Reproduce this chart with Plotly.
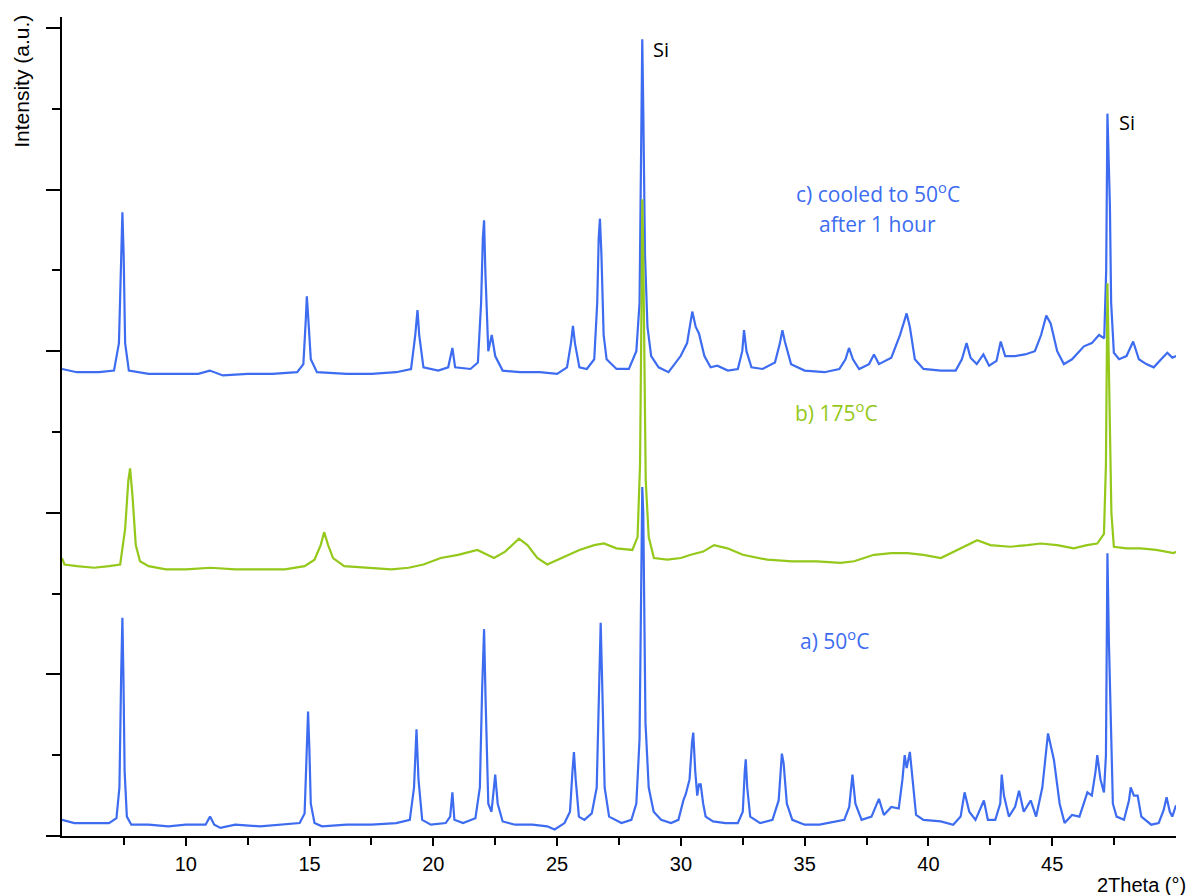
import plotly.graph_objects as go

# ---- data (2Theta in degrees, intensity in stacked a.u.) ----
a_x = [5.0, 5.5, 6.2, 6.9, 7.2, 7.32, 7.39, 7.44, 7.48, 7.53, 7.62, 7.8, 8.5, 9.3, 10.0, 10.8, 10.98, 11.15, 11.4,
       12.0, 13.0, 14.0, 14.6, 14.8, 14.88, 14.94, 14.99, 15.05, 15.2, 15.5, 16.5, 17.5, 18.5, 19.05, 19.22, 19.32,
       19.4, 19.55, 19.9, 20.5, 20.68, 20.77, 20.85, 21.2, 21.7, 21.88, 21.97, 22.05, 22.11, 22.22, 22.35, 22.5,
       22.6, 22.8, 23.3, 24.0, 24.6, 24.9, 25.3, 25.52, 25.62, 25.68, 25.75, 25.88, 26.1, 26.4, 26.6, 26.7, 26.76,
       26.82, 26.92, 27.1, 27.6, 28.0, 28.2, 28.33, 28.4, 28.44, 28.48, 28.52, 28.57, 28.7, 28.9, 29.2, 29.6, 29.9,
       30.1, 30.2, 30.35, 30.45, 30.5, 30.58, 30.66, 30.73, 30.8, 30.9, 31.0, 31.3, 31.8, 32.3, 32.5, 32.58, 32.62,
       32.68, 32.8, 33.2, 33.7, 33.95, 34.08, 34.15, 34.28, 34.5, 35.0, 35.6, 36.2, 36.6, 36.8, 36.93, 37.05, 37.3,
       37.7, 38.0, 38.2, 38.5, 38.8, 38.95, 39.04, 39.12, 39.25, 39.35, 39.5, 39.8, 40.5, 41.0, 41.3, 41.46, 41.65,
       41.9, 42.24, 42.4, 42.7, 42.9, 42.96, 43.05, 43.25, 43.5, 43.66, 43.85, 44.13, 44.35, 44.6, 44.83, 44.95,
       45.07, 45.3, 45.5, 45.8, 46.1, 46.42, 46.6, 46.75, 46.82, 46.95, 47.09, 47.17, 47.23, 47.29, 47.33, 47.38,
       47.45, 47.6, 47.9, 48.1, 48.17, 48.3, 48.45, 48.6, 49.0, 49.3, 49.5, 49.62, 49.75, 49.85, 50.0]
a_y = [0.10, 0.08, 0.08, 0.08, 0.11, 0.30, 1.00, 1.35, 1.00, 0.40, 0.12, 0.07, 0.07, 0.06, 0.07, 0.07, 0.12, 0.07, 0.05,
       0.07, 0.06, 0.07, 0.08, 0.14, 0.45, 0.77, 0.55, 0.20, 0.08, 0.06, 0.07, 0.07, 0.08, 0.10, 0.30, 0.66,
       0.35, 0.10, 0.07, 0.08, 0.12, 0.27, 0.10, 0.08, 0.11, 0.30, 0.90, 1.28, 0.85, 0.20, 0.15, 0.38,
       0.20, 0.09, 0.07, 0.07, 0.06, 0.04, 0.08, 0.15, 0.40, 0.52, 0.35, 0.12, 0.10, 0.14, 0.30, 0.90, 1.32,
       0.95, 0.30, 0.12, 0.08, 0.10, 0.20, 0.60, 1.70, 2.16, 2.00, 1.40, 0.70, 0.30, 0.15, 0.10, 0.08, 0.10,
       0.22, 0.26, 0.35, 0.58, 0.64, 0.40, 0.25, 0.32, 0.32, 0.20, 0.12, 0.09, 0.08, 0.08, 0.15, 0.40, 0.475,
       0.30, 0.12, 0.08, 0.10, 0.22, 0.51, 0.45, 0.20, 0.10, 0.07, 0.07, 0.09, 0.10, 0.18, 0.38, 0.20, 0.10,
       0.12, 0.23, 0.13, 0.18, 0.17, 0.35, 0.50, 0.42, 0.52, 0.35, 0.13, 0.10, 0.09, 0.07, 0.12, 0.27, 0.15,
       0.10, 0.22, 0.10, 0.10, 0.20, 0.38, 0.25, 0.12, 0.18, 0.28, 0.15, 0.22, 0.12, 0.30, 0.635, 0.55,
       0.47, 0.20, 0.08, 0.13, 0.12, 0.27, 0.25, 0.40, 0.50, 0.35, 0.27, 0.50, 1.75, 1.20, 0.92, 0.50,
       0.20, 0.12, 0.10, 0.22, 0.30, 0.25, 0.25, 0.12, 0.07, 0.08, 0.16, 0.24, 0.15, 0.12, 0.19]

b_x = [5.0, 5.1, 5.6, 6.3, 6.9, 7.35, 7.55, 7.68, 7.75, 7.85, 7.98, 8.15, 8.5, 9.2, 10.0, 11.0, 12.0, 13.0, 14.0,
       14.8, 15.2, 15.45, 15.59, 15.75, 15.95, 16.4, 17.3, 18.3, 19.0, 19.6, 20.3, 21.0, 21.78, 22.45, 22.9, 23.46,
       23.8, 24.2, 24.6, 25.2, 25.9, 26.5, 26.89, 27.4, 28.04, 28.25, 28.35, 28.41, 28.44, 28.48, 28.52, 28.58,
       28.7, 28.91, 29.45, 30.0, 30.4, 30.9, 31.34, 31.88, 32.5, 33.49, 34.5, 35.5, 36.45, 37.0, 37.8, 38.5,
       39.15, 39.8, 40.5, 41.2, 41.97, 42.5, 43.3, 44.0, 44.53, 45.2, 45.87, 46.4, 46.82, 47.09, 47.17, 47.23,
       47.28, 47.33, 47.39, 47.49, 48.0, 48.57, 49.2, 49.9, 50.0]
b_y = [1.72, 1.68, 1.67, 1.66, 1.67, 1.68, 1.90, 2.20, 2.275, 2.10, 1.80, 1.70, 1.67, 1.65, 1.65, 1.66, 1.65, 1.65, 1.65,
       1.67, 1.71, 1.80, 1.88, 1.80, 1.72, 1.67, 1.66, 1.65, 1.66, 1.68, 1.72, 1.74, 1.77, 1.72, 1.76, 1.84,
       1.80, 1.72, 1.68, 1.72, 1.77, 1.80, 1.81, 1.78, 1.77, 1.85, 2.30, 3.30, 3.94, 3.60, 3.00, 2.20,
       1.85, 1.72, 1.71, 1.72, 1.74, 1.76, 1.80, 1.78, 1.74, 1.71, 1.70, 1.70, 1.69, 1.70, 1.74, 1.75,
       1.75, 1.74, 1.72, 1.77, 1.83, 1.80, 1.79, 1.80, 1.81, 1.80, 1.78, 1.80, 1.81, 1.87, 2.30, 3.42,
       3.00, 2.62, 2.00, 1.79, 1.78, 1.78, 1.77, 1.75, 1.76]

c_x = [5.0, 5.6, 6.5, 7.1, 7.3, 7.38, 7.44, 7.49, 7.55, 7.7, 8.5, 9.5, 10.5, 10.97, 11.5, 12.5, 13.5, 14.5, 14.75,
       14.85, 14.89, 14.95, 15.05, 15.3, 16.5, 17.5, 18.5, 19.1, 19.27, 19.36, 19.43, 19.6, 20.2, 20.6, 20.77,
       20.88, 21.5, 21.8, 21.93, 22.0, 22.05, 22.1, 22.22, 22.36, 22.5, 22.8, 23.5, 24.3, 25.0, 25.4, 25.56,
       25.64, 25.72, 25.9, 26.2, 26.5, 26.62, 26.68, 26.73, 26.79, 26.88, 27.0, 27.4, 27.9, 28.2, 28.33, 28.4,
       28.44, 28.48, 28.51, 28.55, 28.65, 28.8, 29.1, 29.5, 29.99, 30.25, 30.46, 30.6, 30.73, 30.95, 31.2,
       31.47, 31.9, 32.3, 32.48, 32.55, 32.65, 32.85, 33.3, 33.8, 34.0, 34.1, 34.2, 34.45, 35.0, 35.8, 36.4,
       36.65, 36.79, 36.95, 37.2, 37.6, 37.8, 38.0, 38.5, 38.85, 39.12, 39.25, 39.45, 39.8, 40.5, 41.1, 41.35,
       41.54, 41.7, 41.95, 42.22, 42.45, 42.75, 42.92, 43.1, 43.5, 43.9, 44.3, 44.55, 44.76, 44.94, 45.2,
       45.47, 45.8, 46.1, 46.28, 46.6, 46.89, 47.1, 47.18, 47.23, 47.28, 47.33, 47.38, 47.49, 47.7, 48.0,
       48.27, 48.5, 48.8, 49.1, 49.4, 49.65, 49.85, 50.0]
c_y = [2.89, 2.87, 2.87, 2.88, 3.05, 3.60, 3.86, 3.60, 3.05, 2.88, 2.86, 2.86, 2.86, 2.88, 2.85, 2.86, 2.86, 2.87, 2.92,
       3.20, 3.34, 3.20, 2.95, 2.87, 2.86, 2.86, 2.87, 2.89, 3.10, 3.255, 3.10, 2.90, 2.88, 2.90, 3.02,
       2.90, 2.89, 2.93, 3.30, 3.70, 3.81, 3.50, 3.00, 3.10, 2.97, 2.88, 2.87, 2.87, 2.86, 2.90, 3.05,
       3.156, 3.05, 2.90, 2.89, 2.95, 3.30, 3.70, 3.82, 3.60, 3.10, 2.95, 2.89, 2.89, 3.00, 3.30, 4.30,
       4.93, 4.50, 4.18, 3.60, 3.15, 2.97, 2.90, 2.87, 2.97, 3.05, 3.245, 3.15, 3.11, 2.97, 2.90,
       2.91, 2.88, 2.89, 3.00, 3.13, 3.00, 2.90, 2.89, 2.93, 3.05, 3.13, 3.06, 2.92, 2.88, 2.87, 2.89,
       2.95, 3.02, 2.95, 2.89, 2.92, 2.98, 2.92, 2.96, 3.10, 3.234, 3.15, 2.95, 2.89, 2.88, 2.88, 2.95,
       3.05, 2.96, 2.92, 2.98, 2.91, 2.94, 3.06, 2.97, 2.97, 2.98, 3.00, 3.10, 3.22, 3.17, 3.00,
       2.92, 2.95, 3.00, 3.03, 3.05, 3.10, 3.08, 3.50, 4.47, 4.10, 3.90, 3.30, 2.99, 2.95, 2.97,
       3.06, 2.95, 2.92, 2.90, 2.95, 2.99, 2.96, 2.97]

x_ticks = [10, 15, 20, 25, 30, 35, 40, 45]
x_minor = [7.5, 12.5, 17.5, 22.5, 27.5, 32.5, 37.5, 42.5, 47.5]
y_ticks = [0, 1, 2, 3, 4, 5]
y_minor = [0.5, 1.5, 2.5, 3.5, 4.5]

BLUE = "#3d6cf0"
GREEN = "#94c81a"
LABEL_FONT = "'Open Sans', Lato, sans-serif"
AXIS_FONT = "'Liberation Sans', Arial, sans-serif"

fig = go.Figure()
fig.add_trace(go.Scatter(x=c_x, y=c_y, mode="lines", line=dict(color=BLUE, width=2.2), name="c"))
fig.add_trace(go.Scatter(x=b_x, y=b_y, mode="lines", line=dict(color=GREEN, width=2.2), name="b"))
fig.add_trace(go.Scatter(x=a_x, y=a_y, mode="lines", line=dict(color=BLUE, width=2.2), name="a"))

fig.update_layout(
    width=1189, height=895,
    margin=dict(l=62, r=13, t=17, b=59),
    paper_bgcolor="white", plot_bgcolor="white",
    showlegend=False, hovermode=False,
    xaxis=dict(range=[5, 50], showgrid=False, zeroline=False, showline=True, linecolor="black", linewidth=2,
               ticks="outside", tickvals=x_ticks, ticklen=8, tickwidth=2, tickcolor="black",
               ticklabelstandoff=1,
               tickfont=dict(family=AXIS_FONT, size=20, color="black"),
               minor=dict(tickvals=x_minor, ticks="outside", ticklen=7, tickwidth=2, tickcolor="black")),
    yaxis=dict(range=[0, 5.068], showgrid=False, zeroline=False, showline=True, linecolor="black", linewidth=2,
               ticks="outside", tickvals=y_ticks, ticklen=14, tickwidth=2, tickcolor="black",
               showticklabels=False,
               minor=dict(tickvals=y_minor, ticks="outside", ticklen=8, tickwidth=2, tickcolor="black")),
)

annotations = [
    dict(text="Intensity (a.u.)", xref="paper", yref="paper", x=-0.036, y=0.922, textangle=-90,
         showarrow=False, font=dict(family=AXIS_FONT, size=21, color="black"), xanchor="center", yanchor="middle"),
    dict(text="2Theta (°)", xref="paper", yref="paper", x=1.0105, y=-0.06, showarrow=False,
         font=dict(family=AXIS_FONT, size=20, color="black"), xanchor="right", yanchor="middle"),
    dict(text="Si", x=28.78, y=4.864, xanchor="left", yanchor="middle", showarrow=False,
         font=dict(family=LABEL_FONT, size=20, color="black")),
    dict(text="Si", x=47.63, y=4.418, xanchor="left", yanchor="middle", showarrow=False,
         font=dict(family=LABEL_FONT, size=20, color="black")),
    dict(text="c) cooled to 50<sup>o</sup>C", x=37.95, y=3.985, xanchor="center", yanchor="middle", showarrow=False,
         font=dict(family=LABEL_FONT, size=21, color=BLUE)),
    dict(text="after 1 hour", x=37.95, y=3.79, xanchor="center", yanchor="middle", showarrow=False,
         font=dict(family=LABEL_FONT, size=21, color=BLUE)),
    dict(text="b) 175<sup>o</sup>C", x=34.52, y=2.624, xanchor="left", yanchor="middle", showarrow=False,
         font=dict(family=LABEL_FONT, size=21, color=GREEN)),
    dict(text="a) 50<sup>o</sup>C", x=34.72, y=1.219, xanchor="left", yanchor="middle", showarrow=False,
         font=dict(family=LABEL_FONT, size=21, color=BLUE)),
]
fig.update_layout(annotations=annotations)

fig.write_html("out.html", config={"displayModeBar": False, "staticPlot": True})

# remove the default 8px page margin so the figure sits at the window's top-left corner
with open("out.html", "r", encoding="utf-8") as f:
    html = f.read()
html = html.replace("<head>", "<head><style>html,body{margin:0;padding:0;overflow:hidden;}</style>", 1)
with open("out.html", "w", encoding="utf-8") as f:
    f.write(html)
